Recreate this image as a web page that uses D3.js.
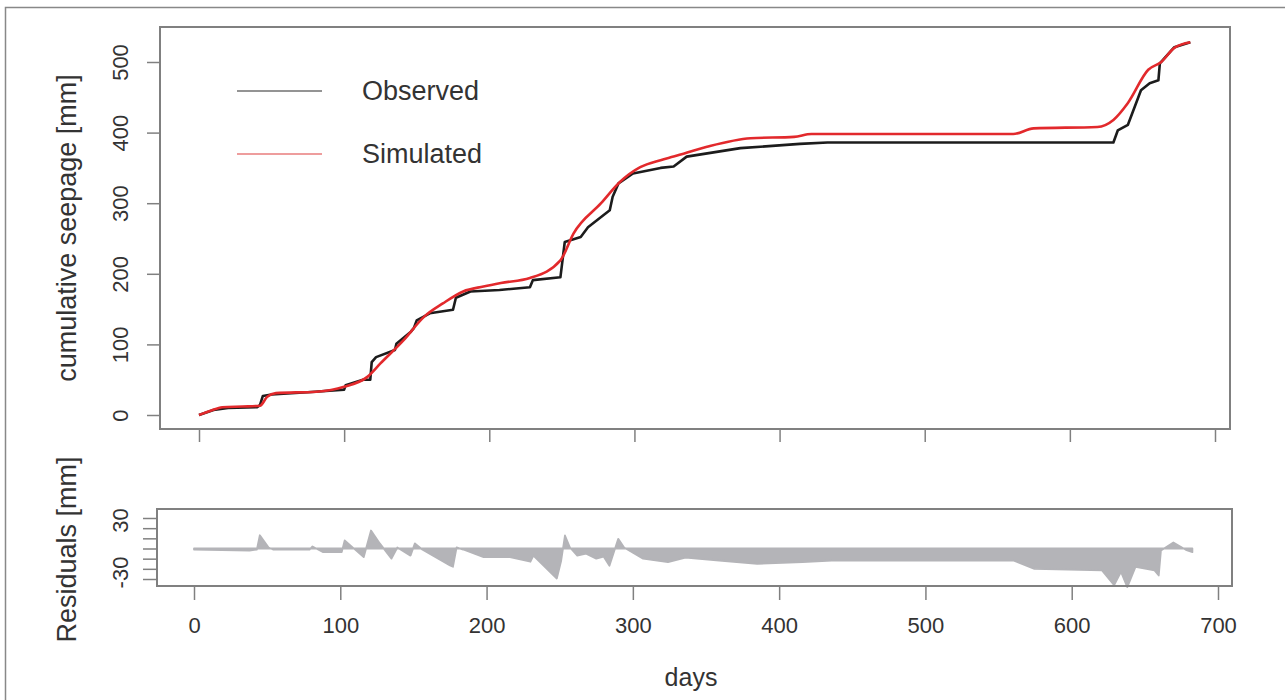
<!DOCTYPE html>
<html>
<head>
<meta charset="utf-8">
<script src="https://cdn.jsdelivr.net/npm/d3@7"></script>
<style>
  body { margin: 0; background: #fff; }
  text { font-family: "Liberation Sans", Arial, sans-serif; fill: #333; }
</style>
</head>
<body>
<svg id="chart" width="1285" height="700"></svg>
<script>
// observed cumulative seepage (black)
const obsDays = [0, 10, 20, 40, 42, 44, 50, 80, 100, 101, 113, 118, 119, 122, 135, 136, 146, 148, 150, 159, 175, 177, 187, 207, 228, 230, 249, 252, 263, 268, 283, 285, 289, 299, 318, 327, 336, 373, 414, 433, 630, 633, 640, 649, 655, 661, 662, 672, 683];
const obsMm   = [0, 7, 10, 11, 14, 27, 29, 33, 36, 42, 50, 50, 75, 82, 92, 101, 118, 123, 134, 144, 149, 166, 175, 177, 181, 191, 195, 245, 252, 266, 290, 309, 328, 342, 350, 352, 366, 378, 384, 386, 386, 403, 411, 460, 470, 474, 498, 521, 528];

// simulated cumulative seepage (red)
const simDays = [0, 8, 16, 30, 42, 47, 53, 81, 100, 116, 125, 141, 155, 168, 182, 196, 208, 228, 249, 258, 277, 290, 304, 318, 327, 350, 380, 410, 422, 561, 575, 619, 630, 640, 654, 663, 672, 683];
const simMm   = [0, 6, 11, 12, 13, 26, 31, 33, 40, 54, 73, 106, 139, 158, 175, 182, 187, 194, 219, 257, 300, 330, 351, 361, 366, 380, 392, 394, 398, 398, 406, 408, 418, 442, 489, 500, 520, 528];

// residuals (observed - simulated)
const resDays = [0, 38, 43, 45, 51, 54, 79, 81, 88, 101, 103, 116, 121, 127, 135, 139, 148, 151, 156, 175, 177, 179.5, 184, 198, 216, 230, 232, 248, 251, 253.6, 257, 262, 268, 275, 280, 284, 290, 294, 307, 324, 336, 359, 385, 416, 436, 560, 574.5, 620.7, 629, 633.7, 638, 643.6, 656.6, 659.5, 661, 669.5, 678, 682.5];
const resMm   = [-1, -2, -1, 13, 1, -1, -1, 2, -3.5, -3.5, 8, -8.5, 17.7, 5, -10, 1, -7, 5, -1, -16.7, -18, 1, -1, -8.5, -8.5, -13, -7, -29.5, -12, 12.8, 1, -7, -5, -10, -8, -17, 9.5, 1, -10, -13.5, -9, -11.8, -15, -13.4, -11.8, -11.8, -20, -21.6, -36, -23, -38, -18, -21.6, -26.5, -2, 6, -1.3, -3.6];

const xTicks = [0, 100, 200, 300, 400, 500, 600, 700];
const yTicksTop = [0, 100, 200, 300, 400, 500];
const yTicksRes = [-30, -20, -10, 0, 10, 20, 30];
const yLabelsRes = [-30, 30];
const seriesNames = ['Observed', 'Simulated'];

const svg = d3.select('#chart');
const frameColor = '#808080';

const obs = obsDays.map((d, i) => ({ day: d, v: obsMm[i] }));
const sim = simDays.map((d, i) => ({ day: d, v: simMm[i] }));
const res = resDays.map((d, i) => ({ day: d, v: resMm[i] }));

// outer picture border
svg.append('path')
  .attr('d', 'M5.5,700 V7.5 H1285')
  .attr('fill', 'none')
  .attr('stroke', '#888')
  .attr('stroke-width', 1.5);

// ---------- top panel ----------
const topBox = { left: 160, right: 1230, top: 27, bottom: 429 };
const x = d3.scaleLinear().domain([0, 700]).range([199, 1215]);
const y = d3.scaleLinear().domain([0, 500]).range([415, 62]);

const lineObs = d3.line().x(d => x(d.day)).y(d => y(d.v));
const lineSim = d3.line().x(d => x(d.day)).y(d => y(d.v)).curve(d3.curveMonotoneX);

svg.append('path').datum(obs)
  .attr('fill', 'none').attr('stroke', '#1c1c1c')
  .attr('stroke-width', 2.6).attr('stroke-linejoin', 'round')
  .attr('d', lineObs);

svg.append('path').datum(sim)
  .attr('fill', 'none').attr('stroke', '#e2292c')
  .attr('stroke-width', 2.6).attr('stroke-linejoin', 'round')
  .attr('d', lineSim);

svg.append('rect')
  .attr('x', topBox.left).attr('y', topBox.top)
  .attr('width', topBox.right - topBox.left).attr('height', topBox.bottom - topBox.top)
  .attr('fill', 'none').attr('stroke', frameColor).attr('stroke-width', 2);

const yAxisTop = svg.append('g')
  .attr('transform', `translate(${topBox.left},0)`)
  .call(d3.axisLeft(y).tickValues(yTicksTop).tickSize(13).tickFormat(d => String(d)));
yAxisTop.select('.domain').remove();
yAxisTop.selectAll('line').attr('stroke', frameColor).attr('stroke-width', 1.5);
yAxisTop.selectAll('text')
  .attr('transform', 'rotate(-90)')
  .attr('x', 0).attr('y', -32).attr('dy', 0)
  .attr('text-anchor', 'middle')
  .style('font-size', '22px').attr('fill', '#333');

const xAxisTop = svg.append('g')
  .attr('transform', `translate(0,${topBox.bottom})`)
  .call(d3.axisBottom(x).tickValues(xTicks).tickSize(13).tickFormat(''));
xAxisTop.select('.domain').remove();
xAxisTop.selectAll('line').attr('stroke', frameColor).attr('stroke-width', 1.5);

svg.append('text')
  .attr('transform', `translate(76,${(topBox.top + topBox.bottom) / 2}) rotate(-90)`)
  .attr('text-anchor', 'middle')
  .style('font-size', '27px')
  .text('cumulative seepage [mm]');

// legend
const legendColors = ['#707070', '#e87c7c'];
seriesNames.forEach((name, i) => {
  const ly = 91 + i * 63;
  svg.append('line')
    .attr('x1', 237).attr('x2', 322).attr('y1', ly).attr('y2', ly)
    .attr('stroke', legendColors[i]).attr('stroke-width', 1.6);
  svg.append('text')
    .attr('x', 362).attr('y', ly + 9)
    .style('font-size', '27px')
    .text(name);
});

// ---------- residual panel ----------
const botBox = { left: 157, right: 1232, top: 509, bottom: 586 };
const xb = d3.scaleLinear().domain([0, 700]).range([194, 1218]);
const yr = d3.scaleLinear().domain([-30, 30]).range([579, 518]);

const area = d3.area().x(d => xb(d.day)).y0(yr(0)).y1(d => yr(d.v));
svg.append('path').datum(res)
  .attr('fill', '#b4b4b8').attr('stroke', '#b4b4b8')
  .attr('stroke-width', 1.8).attr('stroke-linejoin', 'round')
  .attr('d', area);

svg.append('rect')
  .attr('x', botBox.left).attr('y', botBox.top)
  .attr('width', botBox.right - botBox.left).attr('height', botBox.bottom - botBox.top)
  .attr('fill', 'none').attr('stroke', frameColor).attr('stroke-width', 2);

const yAxisRes = svg.append('g')
  .attr('transform', `translate(${botBox.left},0)`)
  .call(d3.axisLeft(yr).tickValues(yTicksRes).tickSize(14)
    .tickFormat(d => yLabelsRes.includes(d) ? String(d) : ''));
yAxisRes.select('.domain').remove();
yAxisRes.selectAll('line').attr('stroke', frameColor).attr('stroke-width', 1.5);
yAxisRes.selectAll('text')
  .attr('transform', 'rotate(-90)')
  .attr('x', d => d < 0 ? 7 : -2).attr('y', -29).attr('dy', 0)
  .attr('text-anchor', 'middle')
  .style('font-size', '22px').attr('fill', '#333');

const xAxisBot = svg.append('g')
  .attr('transform', `translate(0,${botBox.bottom})`)
  .call(d3.axisBottom(xb).tickValues(xTicks).tickSize(14).tickFormat(d => String(d)));
xAxisBot.select('.domain').remove();
xAxisBot.selectAll('line').attr('stroke', frameColor).attr('stroke-width', 1.5);
xAxisBot.selectAll('text')
  .attr('dy', 0).attr('y', 47)
  .style('font-size', '22px').attr('fill', '#333');

svg.append('text')
  .attr('transform', `translate(76,${(botBox.top + botBox.bottom) / 2 + 2}) rotate(-90)`)
  .attr('text-anchor', 'middle')
  .style('font-size', '27px')
  .text('Residuals [mm]');

svg.append('text')
  .attr('x', 691).attr('y', 686)
  .attr('text-anchor', 'middle')
  .style('font-size', '25px')
  .text('days');
</script>
</body>
</html>
